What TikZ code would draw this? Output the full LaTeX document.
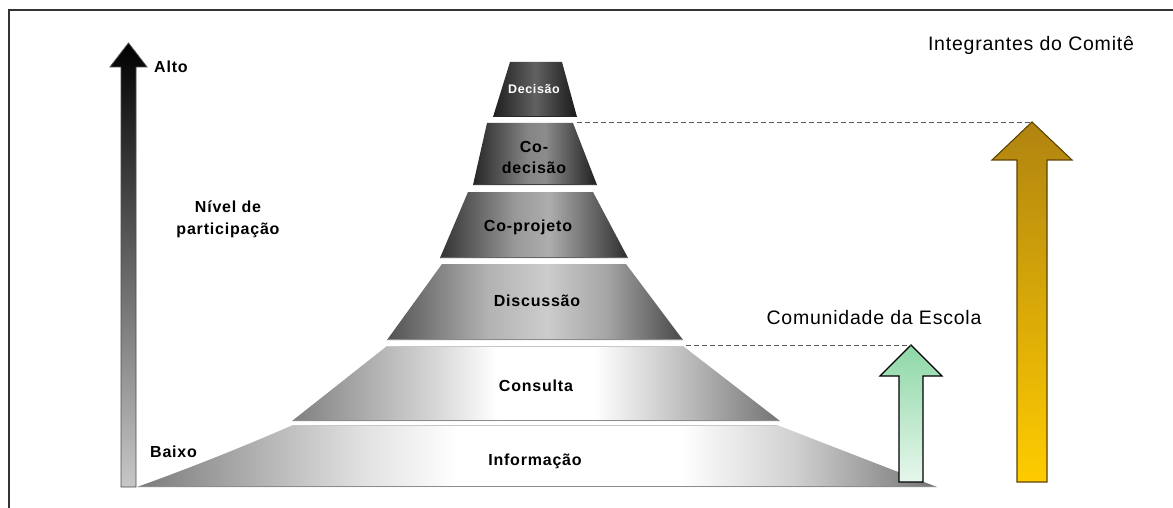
\documentclass[tikz,border=0pt]{standalone}
\usepackage{fontspec}
\setmainfont{Liberation Sans}
\newfontfamily\spacedfont[LetterSpace=5]{Liberation Sans}
\newfontfamily\widefont[LetterSpace=4]{Liberation Sans}
\definecolor{goldtop}{HTML}{B08410}
\definecolor{goldbot}{HTML}{FFCC00}
\definecolor{goldline}{HTML}{5E4300}
\definecolor{greentop}{HTML}{8ED7A6}
\definecolor{greenbot}{HTML}{E6F7EC}
\pgfdeclarehorizontalshading{infoshade}{100bp}{color(0bp)=(black!52); color(25bp)=(black!52); color(39bp)=(black!12); color(45bp)=(white); color(59bp)=(white); color(66bp)=(black!18); color(75bp)=(black!55); color(100bp)=(black!55)}
\pgfdeclarehorizontalshading{consshade}{100bp}{color(0bp)=(black!50); color(25bp)=(black!50); color(40bp)=(black!15); color(46bp)=(white); color(56bp)=(white); color(64bp)=(black!22); color(75bp)=(black!55); color(100bp)=(black!55)}
\pgfdeclarehorizontalshading{discshade}{100bp}{color(0bp)=(black!68); color(25bp)=(black!68); color(42bp)=(black!30); color(52bp)=(black!20); color(62bp)=(black!35); color(75bp)=(black!72); color(100bp)=(black!72)}
\pgfdeclarehorizontalshading{coprshade}{100bp}{color(0bp)=(black!80); color(25bp)=(black!80); color(45bp)=(black!40); color(54bp)=(black!32); color(75bp)=(black!82); color(100bp)=(black!82)}
\pgfdeclarehorizontalshading{codeshade}{100bp}{color(0bp)=(black!85); color(25bp)=(black!85); color(47bp)=(black!48); color(54bp)=(black!45); color(75bp)=(black!88); color(100bp)=(black!88)}
\pgfdeclarehorizontalshading{deshade}{100bp}{color(0bp)=(black!88); color(25bp)=(black!88); color(50bp)=(black!62); color(75bp)=(black!90); color(100bp)=(black!90)}
\begin{document}
\begin{tikzpicture}[x=1pt,y=-1pt,
  frameline/.style={draw=black!80,line width=1.6pt},
  layerbox/.style={draw=none},
  layershadow/.style={draw=black!45,line width=1.6pt},
  gapline/.style={draw=black!22,line width=1pt},
  lvl/.style={font=\spacedfont\fontsize{16}{21}\selectfont\bfseries,align=center,inner sep=0pt},
  side/.style={font=\spacedfont\fontsize{16}{22}\selectfont\bfseries,align=center,inner sep=0pt},
  big/.style={font=\widefont\fontsize{19.5}{22}\selectfont,inner sep=0pt},
  guide/.style={draw=black!65,line width=0.9pt,dash pattern=on 5pt off 3pt}]
\useasboundingbox (0,0) rectangle (1173,508);
\fill[white] (0,0) rectangle (1173,508);
% frame (top and left sides)
\draw[frameline] (9,508) -- (9,10) -- (1173,10);

% level axis arrow
\path[top color=black,bottom color=black!22,draw=black!70,line width=0.8pt]
  (121,487) -- (121,67) -- (110,67) -- (128.5,43) -- (147,67) -- (136,67) -- (136,487) -- cycle;
\node[side,anchor=west] (alto) at (154,67) {Alto};
\node[side,anchor=west] (baixo) at (150,452) {Baixo};
\node[side] (nivel) at (228,219) {Nível de\\participação};

% pyramid layers
% Informacao
\path[layerbox,shading=infoshade]
  (137,487) .. controls (190,468) and (245,446) .. (293,425) -- (777,425) -- (937,487) -- cycle;
\draw[layershadow] (140,486.5) -- (935,486.5);
\draw[gapline] (293,425.5) -- (777,425.5);
% Consulta
\path[layerbox,shading=consshade]
  (292,421) -- (387,346) -- (683,346) -- (780,421) -- cycle;
\draw[layershadow] (293,420.5) -- (779,420.5);
\draw[gapline] (387,346.5) -- (683,346.5);
% Discussao
\path[layerbox,shading=discshade]
  (387,340) -- (442,264) -- (626,264) -- (683,340) -- cycle;
\draw[layershadow] (388,339.5) -- (682,339.5);
% Co-projeto
\path[layerbox,shading=coprshade]
  (440,258) -- (468,192) -- (593,192) -- (628,258) -- cycle;
\draw[layershadow,draw=black!60] (441,257.5) -- (627,257.5);
% Co-decisao
\path[layerbox,shading=codeshade]
  (473,185) -- (487,123) -- (573,123) -- (597,185) -- cycle;
\draw[layershadow,draw=black!75] (474,184.5) -- (596,184.5);
% Decisao
\path[layerbox,shading=deshade]
  (493,117) -- (510,62) -- (562,62) -- (577,117) -- cycle;
\draw[layershadow,draw=black!85] (494,116.5) -- (576,116.5);

\node[lvl,white,font=\spacedfont\fontsize{12.5}{14}\selectfont\bfseries] (decisao) at (534,89) {Decisão};
\node[lvl] (codecisao) at (534,157) {Co-\\decisão};
\node[lvl] (coprojeto) at (528,227) {Co-projeto};
\node[lvl] (discussao) at (537,301) {Discussão};
\node[lvl] (consulta) at (536,386) {Consulta};
\node[lvl] (informacao) at (535,461) {Informação};

% committee arrow (gold)
\coordinate (goldtip) at (1032,122);
\path[top color=goldtop,bottom color=goldbot,draw=goldline,line width=1.1pt]
  (1017,482) -- (1017,160) -- (992,160) -- (goldtip) -- (1072,160) -- (1047,160) -- (1047,482) -- cycle;
% community arrow (green)
\coordinate (greentip) at (911,345);
\path[top color=greentop,bottom color=greenbot,draw=black,line width=1.1pt]
  (899,482) -- (899,376) -- (880,376) -- (greentip) -- (942,376) -- (923,376) -- (923,482) -- cycle;

% guide lines
\coordinate (cdtr) at (577,122);
\coordinate (cstr) at (686,345);
\draw[guide] (cdtr) -- (goldtip);
\draw[guide] (cstr) -- (greentip);

\node[big] (comite) at (1031,45) {Integrantes do Comitê};
\node[big] (comunidade) at (874,318) {Comunidade da Escola};
\end{tikzpicture}
\end{document}
